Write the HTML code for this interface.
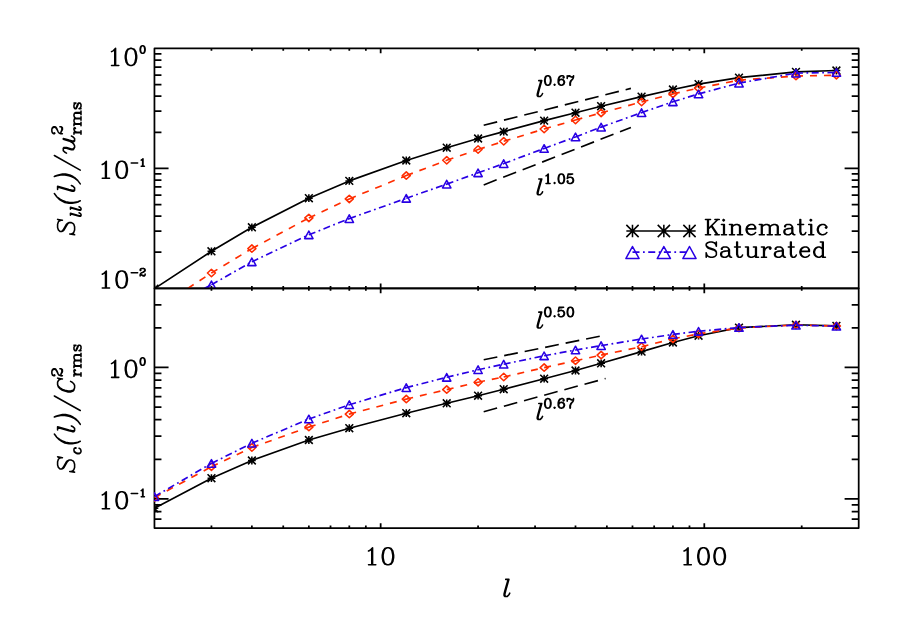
<!DOCTYPE html>
<html><head><meta charset="utf-8"><title>Structure functions</title>
<style>html,body{margin:0;padding:0;background:#fff;font-family:"Liberation Sans",sans-serif}svg{display:block}</style></head>
<body>
<svg width="905" height="626" viewBox="0 0 905 626">
<rect width="905" height="626" fill="#fff"/>
<defs><clipPath id="c1"><rect x="154.45" y="48.45" width="704.25" height="240.5"/></clipPath>
<clipPath id="c2"><rect x="154.05" y="288.35" width="704.65" height="239.65"/></clipPath></defs>
<path d="M154.45 48.45H858.7V288.35H154.45ZM211.44 48.45v2.4M211.44 288.35v-2.4M251.87 48.45v2.4M251.87 288.35v-2.4M283.24 48.45v2.4M283.24 288.35v-2.4M308.86 48.45v2.4M308.86 288.35v-2.4M330.53 48.45v2.4M330.53 288.35v-2.4M349.3 48.45v2.4M349.3 288.35v-2.4M365.85 48.45v2.4M365.85 288.35v-2.4M380.66 48.45v4.8M380.66 288.35v-4.8M478.08 48.45v2.4M478.08 288.35v-2.4M535.07 48.45v2.4M535.07 288.35v-2.4M575.5 48.45v2.4M575.5 288.35v-2.4M606.87 48.45v2.4M606.87 288.35v-2.4M632.49 48.45v2.4M632.49 288.35v-2.4M654.16 48.45v2.4M654.16 288.35v-2.4M672.93 48.45v2.4M672.93 288.35v-2.4M689.48 48.45v2.4M689.48 288.35v-2.4M704.29 48.45v4.8M704.29 288.35v-4.8M801.71 48.45v2.4M801.71 288.35v-2.4M154.45 288.35h14.1M858.7 288.35h-14.1M154.45 252.24h7M858.7 252.24h-7M154.45 231.12h7M858.7 231.12h-7M154.45 216.13h7M858.7 216.13h-7M154.45 204.51h7M858.7 204.51h-7M154.45 195.01h7M858.7 195.01h-7M154.45 186.98h7M858.7 186.98h-7M154.45 180.02h7M858.7 180.02h-7M154.45 173.89h7M858.7 173.89h-7M154.45 168.4h14.1M858.7 168.4h-14.1M154.45 132.29h7M858.7 132.29h-7M154.45 111.17h7M858.7 111.17h-7M154.45 96.18h7M858.7 96.18h-7M154.45 84.56h7M858.7 84.56h-7M154.45 75.06h7M858.7 75.06h-7M154.45 67.03h7M858.7 67.03h-7M154.45 60.07h7M858.7 60.07h-7M154.45 53.94h7M858.7 53.94h-7M154.45 48.45h14.1M858.7 48.45h-14.1" fill="none" stroke="#000" stroke-width="1.75" stroke-linejoin="round" stroke-linecap="butt"/>
<g clip-path="url(#c1)" fill="none" stroke-linejoin="round">
<polyline points="154.45,288.6 211.44,251.3 251.87,227.3 308.86,198.2 349.3,180.9 406.28,160.5 446.72,147.7 478.08,138.5 503.71,131.6 544.14,120.6 575.5,112.7 601.13,106.2 641.56,96.6 672.93,89.5 698.55,84.1 738.99,77.6 795.97,71.9 836.41,70.5" stroke="#000" stroke-width="1.65"/>
<path d="M150.56 288.6h7.77M154.45 284.72v7.77M150.56 284.72l7.77 7.77M150.56 292.49l7.77 -7.77M207.55 251.3h7.77M211.44 247.42v7.77M207.55 247.42l7.77 7.77M207.55 255.19l7.77 -7.77M247.99 227.3h7.77M251.87 223.42v7.77M247.99 223.42l7.77 7.77M247.99 231.19l7.77 -7.77M304.98 198.2h7.77M308.86 194.31v7.77M304.98 194.31l7.77 7.77M304.98 202.08l7.77 -7.77M345.41 180.9h7.77M349.3 177.02v7.77M345.41 177.02l7.77 7.77M345.41 184.78l7.77 -7.77M402.4 160.5h7.77M406.28 156.62v7.77M402.4 156.62l7.77 7.77M402.4 164.38l7.77 -7.77M442.83 147.7h7.77M446.72 143.81v7.77M442.83 143.81l7.77 7.77M442.83 151.58l7.77 -7.77M474.2 138.5h7.77M478.08 134.62v7.77M474.2 134.62l7.77 7.77M474.2 142.38l7.77 -7.77M499.82 131.6h7.77M503.71 127.71v7.77M499.82 127.71l7.77 7.77M499.82 135.48l7.77 -7.77M540.26 120.6h7.77M544.14 116.71v7.77M540.26 116.71l7.77 7.77M540.26 124.48l7.77 -7.77M571.62 112.7h7.77M575.5 108.81v7.77M571.62 108.81l7.77 7.77M571.62 116.59l7.77 -7.77M597.24 106.2h7.77M601.13 102.31v7.77M597.24 102.31l7.77 7.77M597.24 110.09l7.77 -7.77M637.68 96.6h7.77M641.56 92.71v7.77M637.68 92.71l7.77 7.77M637.68 100.48l7.77 -7.77M669.04 89.5h7.77M672.93 85.61v7.77M669.04 85.61l7.77 7.77M669.04 93.39l7.77 -7.77M694.67 84.1h7.77M698.55 80.21v7.77M694.67 80.21l7.77 7.77M694.67 87.98l7.77 -7.77M735.1 77.6h7.77M738.99 73.71v7.77M735.1 73.71l7.77 7.77M735.1 81.48l7.77 -7.77M792.09 71.9h7.77M795.97 68.02v7.77M792.09 68.02l7.77 7.77M792.09 75.79l7.77 -7.77M832.52 70.5h7.77M836.41 66.61v7.77M832.52 66.61l7.77 7.77M832.52 74.39l7.77 -7.77" stroke="#000" stroke-width="1.55"/>
<path d="M187.8 288.35L211.44 273M211.44 273L251.87 248.6M251.87 248.6L308.86 217.9M308.86 217.9L349.3 198.9M349.3 198.9L406.28 175.6M406.28 175.6L446.72 160.3M446.72 160.3L478.08 149.5M478.08 149.5L503.71 141.3M503.71 141.3L544.14 129M544.14 129L575.5 120M575.5 120L601.13 112.9M601.13 112.9L641.56 102M641.56 102L672.93 93.9M672.93 93.9L698.55 88.1M698.55 88.1L738.99 80.2M738.99 80.2L795.97 76.1M795.97 76.1L836.41 75.2" stroke="#ff2d00" stroke-width="1.65" stroke-dasharray="7 7"/>
<path d="M150.45 309l4 -3.7l4 3.7l-4 3.7zM207.44 273l4 -3.7l4 3.7l-4 3.7zM247.87 248.6l4 -3.7l4 3.7l-4 3.7zM304.86 217.9l4 -3.7l4 3.7l-4 3.7zM345.3 198.9l4 -3.7l4 3.7l-4 3.7zM402.28 175.6l4 -3.7l4 3.7l-4 3.7zM442.72 160.3l4 -3.7l4 3.7l-4 3.7zM474.08 149.5l4 -3.7l4 3.7l-4 3.7zM499.71 141.3l4 -3.7l4 3.7l-4 3.7zM540.14 129l4 -3.7l4 3.7l-4 3.7zM571.5 120l4 -3.7l4 3.7l-4 3.7zM597.13 112.9l4 -3.7l4 3.7l-4 3.7zM637.56 102l4 -3.7l4 3.7l-4 3.7zM668.93 93.9l4 -3.7l4 3.7l-4 3.7zM694.55 88.1l4 -3.7l4 3.7l-4 3.7zM734.99 80.2l4 -3.7l4 3.7l-4 3.7zM791.97 76.1l4 -3.7l4 3.7l-4 3.7zM832.41 75.2l4 -3.7l4 3.7l-4 3.7z" stroke="#ff2d00" stroke-width="1.55"/>
<path d="M204.5 288.35L211.44 284.8M211.44 284.8L251.87 261.8M251.87 261.8L308.86 234.8M308.86 234.8L349.3 218.6M349.3 218.6L406.28 198.3M406.28 198.3L446.72 184.1M446.72 184.1L478.08 172.8M478.08 172.8L503.71 163.6M503.71 163.6L544.14 148.5M544.14 148.5L575.5 136.9M575.5 136.9L601.13 127.1M601.13 127.1L641.56 112.6M641.56 112.6L672.93 101.8M672.93 101.8L698.55 93.9M698.55 93.9L738.99 83.1M738.99 83.1L795.97 73.1M795.97 73.1L836.41 72.5" stroke="#2800e4" stroke-width="1.65" stroke-dasharray="7 3.5 1.75 3.5"/>
<path d="M150.27 321.8l8.36 0l-4.18 -7.6zM207.26 288.6l8.36 0l-4.18 -7.6zM247.69 265.6l8.36 0l-4.18 -7.6zM304.68 238.6l8.36 0l-4.18 -7.6zM345.12 222.4l8.36 0l-4.18 -7.6zM402.1 202.1l8.36 0l-4.18 -7.6zM442.54 187.9l8.36 0l-4.18 -7.6zM473.9 176.6l8.36 0l-4.18 -7.6zM499.53 167.4l8.36 0l-4.18 -7.6zM539.96 152.3l8.36 0l-4.18 -7.6zM571.32 140.7l8.36 0l-4.18 -7.6zM596.95 130.9l8.36 0l-4.18 -7.6zM637.38 116.4l8.36 0l-4.18 -7.6zM668.75 105.6l8.36 0l-4.18 -7.6zM694.37 97.7l8.36 0l-4.18 -7.6zM734.81 86.9l8.36 0l-4.18 -7.6zM791.79 76.9l8.36 0l-4.18 -7.6zM832.23 76.3l8.36 0l-4.18 -7.6z" stroke="#2800e4" stroke-width="1.55"/>
</g>
<path d="M154.45 288.35H858.7V528H154.45ZM211.44 288.35v2.4M211.44 528v-2.4M251.87 288.35v2.4M251.87 528v-2.4M283.24 288.35v2.4M283.24 528v-2.4M308.86 288.35v2.4M308.86 528v-2.4M330.53 288.35v2.4M330.53 528v-2.4M349.3 288.35v2.4M349.3 528v-2.4M365.85 288.35v2.4M365.85 528v-2.4M380.66 288.35v4.8M380.66 528v-4.8M478.08 288.35v2.4M478.08 528v-2.4M535.07 288.35v2.4M535.07 528v-2.4M575.5 288.35v2.4M575.5 528v-2.4M606.87 288.35v2.4M606.87 528v-2.4M632.49 288.35v2.4M632.49 528v-2.4M654.16 288.35v2.4M654.16 528v-2.4M672.93 288.35v2.4M672.93 528v-2.4M689.48 288.35v2.4M689.48 528v-2.4M704.29 288.35v4.8M704.29 528v-4.8M801.71 288.35v2.4M801.71 528v-2.4M154.45 528h7M858.7 528h-7M154.45 519.2h7M858.7 519.2h-7M154.45 511.58h7M858.7 511.58h-7M154.45 504.86h7M858.7 504.86h-7M154.45 498.85h14.1M858.7 498.85h-14.1M154.45 459.3h7M858.7 459.3h-7M154.45 436.16h7M858.7 436.16h-7M154.45 419.74h7M858.7 419.74h-7M154.45 407.01h7M858.7 407.01h-7M154.45 396.61h7M858.7 396.61h-7M154.45 387.81h7M858.7 387.81h-7M154.45 380.19h7M858.7 380.19h-7M154.45 373.47h7M858.7 373.47h-7M154.45 367.46h14.1M858.7 367.46h-14.1M154.45 327.9h7M858.7 327.9h-7M154.45 304.77h7M858.7 304.77h-7M154.45 288.35h7M858.7 288.35h-7" fill="none" stroke="#000" stroke-width="1.75" stroke-linejoin="round" stroke-linecap="butt"/>
<g clip-path="url(#c2)" fill="none" stroke-linejoin="round">
<polyline points="154.45,508.3 211.44,478.2 251.87,460.5 308.86,440 349.3,428.2 406.28,413.2 446.72,403.3 478.08,395.7 503.71,389.2 544.14,378.7 575.5,370.5 601.13,363.3 641.56,351.6 672.93,342.5 698.55,335.7 738.99,327.6 795.97,324.8 836.41,325.9" stroke="#000" stroke-width="1.65"/>
<path d="M150.56 508.3h7.77M154.45 504.42v7.77M150.56 504.42l7.77 7.77M150.56 512.19l7.77 -7.77M207.55 478.2h7.77M211.44 474.31v7.77M207.55 474.31l7.77 7.77M207.55 482.08l7.77 -7.77M247.99 460.5h7.77M251.87 456.62v7.77M247.99 456.62l7.77 7.77M247.99 464.38l7.77 -7.77M304.98 440h7.77M308.86 436.12v7.77M304.98 436.12l7.77 7.77M304.98 443.88l7.77 -7.77M345.41 428.2h7.77M349.3 424.31v7.77M345.41 424.31l7.77 7.77M345.41 432.08l7.77 -7.77M402.4 413.2h7.77M406.28 409.31v7.77M402.4 409.31l7.77 7.77M402.4 417.08l7.77 -7.77M442.83 403.3h7.77M446.72 399.42v7.77M442.83 399.42l7.77 7.77M442.83 407.19l7.77 -7.77M474.2 395.7h7.77M478.08 391.81v7.77M474.2 391.81l7.77 7.77M474.2 399.58l7.77 -7.77M499.82 389.2h7.77M503.71 385.31v7.77M499.82 385.31l7.77 7.77M499.82 393.08l7.77 -7.77M540.26 378.7h7.77M544.14 374.81v7.77M540.26 374.81l7.77 7.77M540.26 382.58l7.77 -7.77M571.62 370.5h7.77M575.5 366.62v7.77M571.62 366.62l7.77 7.77M571.62 374.38l7.77 -7.77M597.24 363.3h7.77M601.13 359.42v7.77M597.24 359.42l7.77 7.77M597.24 367.19l7.77 -7.77M637.68 351.6h7.77M641.56 347.72v7.77M637.68 347.72l7.77 7.77M637.68 355.49l7.77 -7.77M669.04 342.5h7.77M672.93 338.62v7.77M669.04 338.62l7.77 7.77M669.04 346.38l7.77 -7.77M694.67 335.7h7.77M698.55 331.81v7.77M694.67 331.81l7.77 7.77M694.67 339.58l7.77 -7.77M735.1 327.6h7.77M738.99 323.72v7.77M735.1 323.72l7.77 7.77M735.1 331.49l7.77 -7.77M792.09 324.8h7.77M795.97 320.92v7.77M792.09 320.92l7.77 7.77M792.09 328.69l7.77 -7.77M832.52 325.9h7.77M836.41 322.01v7.77M832.52 322.01l7.77 7.77M832.52 329.78l7.77 -7.77" stroke="#000" stroke-width="1.55"/>
<path d="M154.45 497.6L211.44 466.7M211.44 466.7L251.87 447.5M251.87 447.5L308.86 427.1M308.86 427.1L349.3 414.1M349.3 414.1L406.28 399.1M406.28 399.1L446.72 389.6M446.72 389.6L478.08 382.2M478.08 382.2L503.71 377M503.71 377L544.14 367.6M544.14 367.6L575.5 360.7M575.5 360.7L601.13 355.1M601.13 355.1L641.56 346.7M641.56 346.7L672.93 338.9M672.93 338.9L698.55 333.9M698.55 333.9L738.99 328M738.99 328L795.97 325M795.97 325L836.41 326" stroke="#ff2d00" stroke-width="1.65" stroke-dasharray="7 7"/>
<path d="M150.45 497.6l4 -3.7l4 3.7l-4 3.7zM207.44 466.7l4 -3.7l4 3.7l-4 3.7zM247.87 447.5l4 -3.7l4 3.7l-4 3.7zM304.86 427.1l4 -3.7l4 3.7l-4 3.7zM345.3 414.1l4 -3.7l4 3.7l-4 3.7zM402.28 399.1l4 -3.7l4 3.7l-4 3.7zM442.72 389.6l4 -3.7l4 3.7l-4 3.7zM474.08 382.2l4 -3.7l4 3.7l-4 3.7zM499.71 377l4 -3.7l4 3.7l-4 3.7zM540.14 367.6l4 -3.7l4 3.7l-4 3.7zM571.5 360.7l4 -3.7l4 3.7l-4 3.7zM597.13 355.1l4 -3.7l4 3.7l-4 3.7zM637.56 346.7l4 -3.7l4 3.7l-4 3.7zM668.93 338.9l4 -3.7l4 3.7l-4 3.7zM694.55 333.9l4 -3.7l4 3.7l-4 3.7zM734.99 328l4 -3.7l4 3.7l-4 3.7zM791.97 325l4 -3.7l4 3.7l-4 3.7zM832.41 326l4 -3.7l4 3.7l-4 3.7z" stroke="#ff2d00" stroke-width="1.55"/>
<path d="M154.45 496.6L211.44 463.4M211.44 463.4L251.87 443.2M251.87 443.2L308.86 419M308.86 419L349.3 404.7M349.3 404.7L406.28 387.6M406.28 387.6L446.72 377.3M446.72 377.3L478.08 369.7M478.08 369.7L503.71 364.2M503.71 364.2L544.14 355.8M544.14 355.8L575.5 350M575.5 350L601.13 345.6M601.13 345.6L641.56 339M641.56 339L672.93 334.4M672.93 334.4L698.55 331.3M698.55 331.3L738.99 327.5M738.99 327.5L795.97 325.2M795.97 325.2L836.41 326.2" stroke="#2800e4" stroke-width="1.65" stroke-dasharray="7 3.5 1.75 3.5"/>
<path d="M150.27 500.4l8.36 0l-4.18 -7.6zM207.26 467.2l8.36 0l-4.18 -7.6zM247.69 447l8.36 0l-4.18 -7.6zM304.68 422.8l8.36 0l-4.18 -7.6zM345.12 408.5l8.36 0l-4.18 -7.6zM402.1 391.4l8.36 0l-4.18 -7.6zM442.54 381.1l8.36 0l-4.18 -7.6zM473.9 373.5l8.36 0l-4.18 -7.6zM499.53 368l8.36 0l-4.18 -7.6zM539.96 359.6l8.36 0l-4.18 -7.6zM571.32 353.8l8.36 0l-4.18 -7.6zM596.95 349.4l8.36 0l-4.18 -7.6zM637.38 342.8l8.36 0l-4.18 -7.6zM668.75 338.2l8.36 0l-4.18 -7.6zM694.37 335.1l8.36 0l-4.18 -7.6zM734.81 331.3l8.36 0l-4.18 -7.6zM791.79 329l8.36 0l-4.18 -7.6zM832.23 330l8.36 0l-4.18 -7.6z" stroke="#2800e4" stroke-width="1.55"/>
</g>
<path d="M483.7 125.2L630.9 88.4M483.7 184.9L630.9 127.5M483.7 359.8L605.6 335.05M483.7 411.7L605.6 378.5" fill="none" stroke="#000" stroke-width="1.65" stroke-dasharray="13.9 7"/>
<path d="M111.53 51.63L113.15 50.82L115.58 48.39L115.58 65.4M114.77 49.2L114.77 65.4M111.53 65.4L118.82 65.4M130.16 48.39L127.73 49.2L126.11 51.63L125.3 55.68L125.3 58.11L126.11 62.16L127.73 64.59L130.16 65.4L131.78 65.4L134.21 64.59L135.83 62.16L136.64 58.11L136.64 55.68L135.83 51.63L134.21 49.2L131.78 48.39L130.16 48.39M130.16 48.39L128.54 49.2L127.73 50.01L126.92 51.63L126.11 55.68L126.11 58.11L126.92 62.16L127.73 63.78L128.54 64.59L130.16 65.4M131.78 65.4L133.4 64.59L134.21 63.78L135.02 62.16L135.83 58.11L135.83 55.68L135.02 51.63L134.21 50.01L133.4 49.2L131.78 48.39M142.28 45.82L141.21 46.17L140.5 47.24L140.14 49.02L140.14 50.09L140.5 51.87L141.21 52.94L142.28 53.3L142.99 53.3L144.06 52.94L144.77 51.87L145.13 50.09L145.13 49.02L144.77 47.24L144.06 46.17L142.99 45.82L142.28 45.82M142.28 45.82L141.57 46.17L141.21 46.53L140.85 47.24L140.5 49.02L140.5 50.09L140.85 51.87L141.21 52.59L141.57 52.94L142.28 53.3M142.99 53.3L143.71 52.94L144.06 52.59L144.42 51.87L144.77 50.09L144.77 49.02L144.42 47.24L144.06 46.53L143.71 46.17L142.99 45.82M102.27 164.53L103.89 163.72L106.32 161.29L106.32 178.3M105.51 162.1L105.51 178.3M102.27 178.3L109.56 178.3M120.9 161.29L118.47 162.1L116.85 164.53L116.04 168.58L116.04 171.01L116.85 175.06L118.47 177.49L120.9 178.3L122.52 178.3L124.95 177.49L126.57 175.06L127.38 171.01L127.38 168.58L126.57 164.53L124.95 162.1L122.52 161.29L120.9 161.29M120.9 161.29L119.28 162.1L118.47 162.91L117.66 164.53L116.85 168.58L116.85 171.01L117.66 175.06L118.47 176.68L119.28 177.49L120.9 178.3M122.52 178.3L124.14 177.49L124.95 176.68L125.76 175.06L126.57 171.01L126.57 168.58L125.76 164.53L124.95 162.91L124.14 162.1L122.52 161.29M131.23 162.99L137.65 162.99M141.21 160.14L141.92 159.78L142.99 158.72L142.99 166.2M142.64 159.07L142.64 166.2M141.21 166.2L144.42 166.2M102.27 274.23L103.89 273.42L106.32 270.99L106.32 288M105.51 271.8L105.51 288M102.27 288L109.56 288M120.9 270.99L118.47 271.8L116.85 274.23L116.04 278.28L116.04 280.71L116.85 284.76L118.47 287.19L120.9 288L122.52 288L124.95 287.19L126.57 284.76L127.38 280.71L127.38 278.28L126.57 274.23L124.95 271.8L122.52 270.99L120.9 270.99M120.9 270.99L119.28 271.8L118.47 272.61L117.66 274.23L116.85 278.28L116.85 280.71L117.66 284.76L118.47 286.38L119.28 287.19L120.9 288M122.52 288L124.14 287.19L124.95 286.38L125.76 284.76L126.57 280.71L126.57 278.28L125.76 274.23L124.95 272.61L124.14 271.8L122.52 270.99M131.23 272.69L137.65 272.69M140.5 269.84L140.85 270.2L140.5 270.55L140.14 270.2L140.14 269.84L140.5 269.13L140.85 268.77L141.92 268.42L143.35 268.42L144.42 268.77L144.77 269.13L145.13 269.84L145.13 270.55L144.77 271.27L143.71 271.98L141.92 272.69L141.21 273.05L140.5 273.76L140.14 274.83L140.14 275.9M143.35 268.42L144.06 268.77L144.42 269.13L144.77 269.84L144.77 270.55L144.42 271.27L143.35 271.98L141.92 272.69M140.14 275.19L140.5 274.83L141.21 274.83L142.99 275.54L144.06 275.54L144.77 275.19L145.13 274.83M141.21 274.83L142.99 275.9L144.42 275.9L144.77 275.54L145.13 274.83L145.13 274.12M111.53 363.59L113.15 362.78L115.58 360.35L115.58 377.36M114.77 361.16L114.77 377.36M111.53 377.36L118.82 377.36M130.16 360.35L127.73 361.16L126.11 363.59L125.3 367.64L125.3 370.07L126.11 374.12L127.73 376.55L130.16 377.36L131.78 377.36L134.21 376.55L135.83 374.12L136.64 370.07L136.64 367.64L135.83 363.59L134.21 361.16L131.78 360.35L130.16 360.35M130.16 360.35L128.54 361.16L127.73 361.97L126.92 363.59L126.11 367.64L126.11 370.07L126.92 374.12L127.73 375.74L128.54 376.55L130.16 377.36M131.78 377.36L133.4 376.55L134.21 375.74L135.02 374.12L135.83 370.07L135.83 367.64L135.02 363.59L134.21 361.97L133.4 361.16L131.78 360.35M142.28 357.77L141.21 358.13L140.5 359.2L140.14 360.98L140.14 362.05L140.5 363.83L141.21 364.9L142.28 365.26L142.99 365.26L144.06 364.9L144.77 363.83L145.13 362.05L145.13 360.98L144.77 359.2L144.06 358.13L142.99 357.77L142.28 357.77M142.28 357.77L141.57 358.13L141.21 358.49L140.85 359.2L140.5 360.98L140.5 362.05L140.85 363.83L141.21 364.54L141.57 364.9L142.28 365.26M142.99 365.26L143.71 364.9L144.06 364.54L144.42 363.83L144.77 362.05L144.77 360.98L144.42 359.2L144.06 358.49L143.71 358.13L142.99 357.77M102.27 494.98L103.89 494.17L106.32 491.74L106.32 508.75M105.51 492.55L105.51 508.75M102.27 508.75L109.56 508.75M120.9 491.74L118.47 492.55L116.85 494.98L116.04 499.03L116.04 501.46L116.85 505.51L118.47 507.94L120.9 508.75L122.52 508.75L124.95 507.94L126.57 505.51L127.38 501.46L127.38 499.03L126.57 494.98L124.95 492.55L122.52 491.74L120.9 491.74M120.9 491.74L119.28 492.55L118.47 493.36L117.66 494.98L116.85 499.03L116.85 501.46L117.66 505.51L118.47 507.13L119.28 507.94L120.9 508.75M122.52 508.75L124.14 507.94L124.95 507.13L125.76 505.51L126.57 501.46L126.57 499.03L125.76 494.98L124.95 493.36L124.14 492.55L122.52 491.74M131.23 493.44L137.65 493.44M141.21 490.59L141.92 490.24L142.99 489.17L142.99 496.65M142.64 489.52L142.64 496.65M141.21 496.65L144.42 496.65M368.52 551.03L370.14 550.22L372.57 547.79L372.57 564.8M371.76 548.6L371.76 564.8M368.52 564.8L375.81 564.8M387.15 547.79L384.72 548.6L383.1 551.03L382.29 555.08L382.29 557.51L383.1 561.56L384.72 563.99L387.15 564.8L388.77 564.8L391.2 563.99L392.82 561.56L393.63 557.51L393.63 555.08L392.82 551.03L391.2 548.6L388.77 547.79L387.15 547.79M387.15 547.79L385.53 548.6L384.72 549.41L383.91 551.03L383.1 555.08L383.1 557.51L383.91 561.56L384.72 563.18L385.53 563.99L387.15 564.8M388.77 564.8L390.39 563.99L391.2 563.18L392.01 561.56L392.82 557.51L392.82 555.08L392.01 551.03L391.2 549.41L390.39 548.6L388.77 547.79M684.05 551.03L685.67 550.22L688.1 547.79L688.1 564.8M687.29 548.6L687.29 564.8M684.05 564.8L691.34 564.8M702.68 547.79L700.25 548.6L698.63 551.03L697.82 555.08L697.82 557.51L698.63 561.56L700.25 563.99L702.68 564.8L704.3 564.8L706.73 563.99L708.35 561.56L709.16 557.51L709.16 555.08L708.35 551.03L706.73 548.6L704.3 547.79L702.68 547.79M702.68 547.79L701.06 548.6L700.25 549.41L699.44 551.03L698.63 555.08L698.63 557.51L699.44 561.56L700.25 563.18L701.06 563.99L702.68 564.8M704.3 564.8L705.92 563.99L706.73 563.18L707.54 561.56L708.35 557.51L708.35 555.08L707.54 551.03L706.73 549.41L705.92 548.6L704.3 547.79M718.88 547.79L716.45 548.6L714.83 551.03L714.02 555.08L714.02 557.51L714.83 561.56L716.45 563.99L718.88 564.8L720.5 564.8L722.93 563.99L724.55 561.56L725.36 557.51L725.36 555.08L724.55 551.03L722.93 548.6L720.5 547.79L718.88 547.79M718.88 547.79L717.26 548.6L716.45 549.41L715.64 551.03L714.83 555.08L714.83 557.51L715.64 561.56L716.45 563.18L717.26 563.99L718.88 564.8M720.5 564.8L722.12 563.99L722.93 563.18L723.74 561.56L724.55 557.51L724.55 555.08L723.74 551.03L722.93 549.41L722.12 548.6L720.5 547.79M508.12 579.39L504.88 590.73L504.07 593.97L504.07 595.59L504.88 596.4L507.31 596.4L508.93 594.78L509.74 593.16M508.93 579.39L505.69 590.73L504.88 593.97L504.88 595.59L505.69 596.4M505.69 579.39L508.93 579.39M707.63 219.43L707.63 234.7M708.36 219.43L708.36 234.7M717.81 219.43L708.36 228.88M712 225.98L717.81 234.7M711.27 225.98L717.09 234.7M705.45 219.43L710.54 219.43M714.91 219.43L719.27 219.43M705.45 234.7L710.54 234.7M714.91 234.7L719.27 234.7M723.63 219.43L722.9 220.16L723.63 220.89L724.36 220.16L723.63 219.43M723.63 224.52L723.63 234.7M724.36 224.52L724.36 234.7M721.45 224.52L724.36 224.52M721.45 234.7L726.54 234.7M731.63 224.52L731.63 234.7M732.35 224.52L732.35 234.7M732.35 226.7L733.81 225.25L735.99 224.52L737.44 224.52L739.62 225.25L740.35 226.7L740.35 234.7M737.44 224.52L738.9 225.25L739.62 226.7L739.62 234.7M729.44 224.52L732.35 224.52M729.44 234.7L734.53 234.7M737.44 234.7L742.53 234.7M746.89 228.88L755.62 228.88L755.62 227.43L754.89 225.98L754.16 225.25L752.71 224.52L750.53 224.52L748.35 225.25L746.89 226.7L746.17 228.88L746.17 230.34L746.89 232.52L748.35 233.97L750.53 234.7L751.98 234.7L754.16 233.97L755.62 232.52M754.89 228.88L754.89 226.7L754.16 225.25M750.53 224.52L749.07 225.25L747.62 226.7L746.89 228.88L746.89 230.34L747.62 232.52L749.07 233.97L750.53 234.7M761.43 224.52L761.43 234.7M762.16 224.52L762.16 234.7M762.16 226.7L763.61 225.25L765.79 224.52L767.25 224.52L769.43 225.25L770.16 226.7L770.16 234.7M767.25 224.52L768.7 225.25L769.43 226.7L769.43 234.7M770.16 226.7L771.61 225.25L773.79 224.52L775.25 224.52L777.43 225.25L778.15 226.7L778.15 234.7M775.25 224.52L776.7 225.25L777.43 226.7L777.43 234.7M759.25 224.52L762.16 224.52M759.25 234.7L764.34 234.7M767.25 234.7L772.34 234.7M775.25 234.7L780.33 234.7M785.42 225.98L785.42 226.7L784.7 226.7L784.7 225.98L785.42 225.25L786.88 224.52L789.79 224.52L791.24 225.25L791.97 225.98L792.69 227.43L792.69 232.52L793.42 233.97L794.15 234.7M791.97 225.98L791.97 232.52L792.69 233.97L794.15 234.7L794.88 234.7M791.97 227.43L791.24 228.16L786.88 228.88L784.7 229.61L783.97 231.06L783.97 232.52L784.7 233.97L786.88 234.7L789.06 234.7L790.51 233.97L791.97 232.52M786.88 228.88L785.42 229.61L784.7 231.06L784.7 232.52L785.42 233.97L786.88 234.7M799.96 219.43L799.96 231.79L800.69 233.97L802.14 234.7L803.6 234.7L805.05 233.97L805.78 232.52M800.69 219.43L800.69 231.79L801.42 233.97L802.14 234.7M797.78 224.52L803.6 224.52M810.87 219.43L810.14 220.16L810.87 220.89L811.6 220.16L810.87 219.43M810.87 224.52L810.87 234.7M811.6 224.52L811.6 234.7M808.69 224.52L811.6 224.52M808.69 234.7L813.78 234.7M826.14 226.7L825.41 227.43L826.14 228.16L826.86 227.43L826.86 226.7L825.41 225.25L823.95 224.52L821.77 224.52L819.59 225.25L818.14 226.7L817.41 228.88L817.41 230.34L818.14 232.52L819.59 233.97L821.77 234.7L823.23 234.7L825.41 233.97L826.86 232.52M821.77 224.52L820.32 225.25L818.87 226.7L818.14 228.88L818.14 230.34L818.87 232.52L820.32 233.97L821.77 234.7M715.63 244.11L716.36 241.93L716.36 246.29L715.63 244.11L714.18 242.66L712 241.93L709.82 241.93L707.63 242.66L706.18 244.11L706.18 245.57L706.91 247.02L707.63 247.75L709.09 248.48L713.45 249.93L714.9 250.66L716.36 252.11M706.18 245.57L707.63 247.02L709.09 247.75L713.45 249.2L714.9 249.93L715.63 250.66L716.36 252.11L716.36 255.02L714.9 256.47L712.72 257.2L710.54 257.2L708.36 256.47L706.91 255.02L706.18 252.84L706.18 257.2L706.91 255.02M722.17 248.48L722.17 249.2L721.45 249.2L721.45 248.48L722.17 247.75L723.63 247.02L726.54 247.02L727.99 247.75L728.72 248.48L729.44 249.93L729.44 255.02L730.17 256.47L730.9 257.2M728.72 248.48L728.72 255.02L729.44 256.47L730.9 257.2L731.63 257.2M728.72 249.93L727.99 250.66L723.63 251.38L721.45 252.11L720.72 253.56L720.72 255.02L721.45 256.47L723.63 257.2L725.81 257.2L727.26 256.47L728.72 255.02M723.63 251.38L722.17 252.11L721.45 253.56L721.45 255.02L722.17 256.47L723.63 257.2M736.72 241.93L736.72 254.29L737.44 256.47L738.9 257.2L740.35 257.2L741.8 256.47L742.53 255.02M737.44 241.93L737.44 254.29L738.17 256.47L738.9 257.2M734.53 247.02L740.35 247.02M747.62 247.02L747.62 255.02L748.35 256.47L750.53 257.2L751.98 257.2L754.16 256.47L755.62 255.02M748.35 247.02L748.35 255.02L749.07 256.47L750.53 257.2M755.62 247.02L755.62 257.2M756.34 247.02L756.34 257.2M745.44 247.02L748.35 247.02M753.44 247.02L756.34 247.02M755.62 257.2L758.52 257.2M763.61 247.02L763.61 257.2M764.34 247.02L764.34 257.2M764.34 251.38L765.07 249.2L766.52 247.75L767.98 247.02L770.16 247.02L770.88 247.75L770.88 248.48L770.16 249.2L769.43 248.48L770.16 247.75M761.43 247.02L764.34 247.02M761.43 257.2L766.52 257.2M775.97 248.48L775.97 249.2L775.25 249.2L775.25 248.48L775.97 247.75L777.43 247.02L780.33 247.02L781.79 247.75L782.52 248.48L783.24 249.93L783.24 255.02L783.97 256.47L784.7 257.2M782.52 248.48L782.52 255.02L783.24 256.47L784.7 257.2L785.42 257.2M782.52 249.93L781.79 250.66L777.43 251.38L775.25 252.11L774.52 253.56L774.52 255.02L775.25 256.47L777.43 257.2L779.61 257.2L781.06 256.47L782.52 255.02M777.43 251.38L775.97 252.11L775.25 253.56L775.25 255.02L775.97 256.47L777.43 257.2M790.51 241.93L790.51 254.29L791.24 256.47L792.69 257.2L794.15 257.2L795.6 256.47L796.33 255.02M791.24 241.93L791.24 254.29L791.97 256.47L792.69 257.2M788.33 247.02L794.15 247.02M800.69 251.38L809.41 251.38L809.41 249.93L808.69 248.48L807.96 247.75L806.51 247.02L804.33 247.02L802.14 247.75L800.69 249.2L799.96 251.38L799.96 252.84L800.69 255.02L802.14 256.47L804.33 257.2L805.78 257.2L807.96 256.47L809.41 255.02M808.69 251.38L808.69 249.2L807.96 247.75M804.33 247.02L802.87 247.75L801.42 249.2L800.69 251.38L800.69 252.84L801.42 255.02L802.87 256.47L804.33 257.2M822.5 241.93L822.5 257.2M823.23 241.93L823.23 257.2M822.5 249.2L821.05 247.75L819.59 247.02L818.14 247.02L815.96 247.75L814.5 249.2L813.78 251.38L813.78 252.84L814.5 255.02L815.96 256.47L818.14 257.2L819.59 257.2L821.05 256.47L822.5 255.02M818.14 247.02L816.68 247.75L815.23 249.2L814.5 251.38L814.5 252.84L815.23 255.02L816.68 256.47L818.14 257.2M820.32 241.93L823.23 241.93M822.5 257.2L825.41 257.2M541.04 80.64L538.02 91.22L537.26 94.23L537.26 95.75L538.02 96.5L540.28 96.5L541.79 94.99L542.55 93.48M541.79 80.64L538.77 91.22L538.02 94.23L538.02 95.75L538.77 96.5M538.77 80.64L541.79 80.64M547.38 75.73L546.03 76.19L545.13 77.54L544.68 79.79L544.68 81.14L545.13 83.4L546.03 84.75L547.38 85.2L548.28 85.2L549.63 84.75L550.54 83.4L550.99 81.14L550.99 79.79L550.54 77.54L549.63 76.19L548.28 75.73L547.38 75.73M547.38 75.73L546.48 76.19L546.03 76.64L545.58 77.54L545.13 79.79L545.13 81.14L545.58 83.4L546.03 84.3L546.48 84.75L547.38 85.2M548.28 85.2L549.18 84.75L549.63 84.3L550.09 83.4L550.54 81.14L550.54 79.79L550.09 77.54L549.63 76.64L549.18 76.19L548.28 75.73M554.59 84.3L554.14 84.75L554.59 85.2L555.04 84.75L554.59 84.3M563.61 77.09L563.16 77.54L563.61 77.99L564.06 77.54L564.06 77.09L563.61 76.19L562.71 75.73L561.35 75.73L560 76.19L559.1 77.09L558.65 77.99L558.2 79.79L558.2 82.5L558.65 83.85L559.55 84.75L560.9 85.2L561.8 85.2L563.16 84.75L564.06 83.85L564.51 82.5L564.51 82.04L564.06 80.69L563.16 79.79L561.8 79.34L561.35 79.34L560 79.79L559.1 80.69L558.65 82.04M561.35 75.73L560.45 76.19L559.55 77.09L559.1 77.99L558.65 79.79L558.65 82.5L559.1 83.85L560 84.75L560.9 85.2M561.8 85.2L562.71 84.75L563.61 83.85L564.06 82.5L564.06 82.04L563.61 80.69L562.71 79.79L561.8 79.34M567.21 75.73L567.21 78.44M567.21 77.54L567.66 76.64L568.57 75.73L569.47 75.73L571.72 77.09L572.62 77.09L573.07 76.64L573.52 75.73M567.66 76.64L568.57 76.19L569.47 76.19L571.72 77.09M573.52 75.73L573.52 77.09L573.07 78.44L571.27 80.69L570.82 81.59L570.37 82.95L570.37 85.2M573.07 78.44L570.82 80.69L570.37 81.59L569.92 82.95L569.92 85.2M541.04 178.95L538.02 189.52L537.26 192.54L537.26 194.05L538.02 194.8L540.28 194.8L541.79 193.29L542.55 191.78M541.79 178.95L538.77 189.52L538.02 192.54L538.02 194.05L538.77 194.8M538.77 178.95L541.79 178.95M546.03 175.84L546.93 175.39L548.28 174.03L548.28 183.5M547.83 174.49L547.83 183.5M546.03 183.5L550.09 183.5M554.59 182.6L554.14 183.05L554.59 183.5L555.04 183.05L554.59 182.6M560.9 174.03L559.55 174.49L558.65 175.84L558.2 178.09L558.2 179.44L558.65 181.7L559.55 183.05L560.9 183.5L561.8 183.5L563.16 183.05L564.06 181.7L564.51 179.44L564.51 178.09L564.06 175.84L563.16 174.49L561.8 174.03L560.9 174.03M560.9 174.03L560 174.49L559.55 174.94L559.1 175.84L558.65 178.09L558.65 179.44L559.1 181.7L559.55 182.6L560 183.05L560.9 183.5M561.8 183.5L562.71 183.05L563.16 182.6L563.61 181.7L564.06 179.44L564.06 178.09L563.61 175.84L563.16 174.94L562.71 174.49L561.8 174.03M568.11 174.03L567.21 178.54M567.21 178.54L568.11 177.64L569.47 177.19L570.82 177.19L572.17 177.64L573.07 178.54L573.52 179.89L573.52 180.8L573.07 182.15L572.17 183.05L570.82 183.5L569.47 183.5L568.11 183.05L567.66 182.6L567.21 181.7L567.21 181.25L567.66 180.8L568.11 181.25L567.66 181.7M570.82 177.19L571.72 177.64L572.62 178.54L573.07 179.89L573.07 180.8L572.62 182.15L571.72 183.05L570.82 183.5M568.11 174.03L572.62 174.03M568.11 174.49L570.37 174.49L572.62 174.03M541.04 312.14L538.02 322.71L537.26 325.74L537.26 327.25L538.02 328L540.28 328L541.79 326.49L542.55 324.98M541.79 312.14L538.77 322.71L538.02 325.74L538.02 327.25L538.77 328M538.77 312.14L541.79 312.14M547.38 307.23L546.03 307.69L545.13 309.04L544.68 311.29L544.68 312.64L545.13 314.9L546.03 316.25L547.38 316.7L548.28 316.7L549.63 316.25L550.54 314.9L550.99 312.64L550.99 311.29L550.54 309.04L549.63 307.69L548.28 307.23L547.38 307.23M547.38 307.23L546.48 307.69L546.03 308.14L545.58 309.04L545.13 311.29L545.13 312.64L545.58 314.9L546.03 315.8L546.48 316.25L547.38 316.7M548.28 316.7L549.18 316.25L549.63 315.8L550.09 314.9L550.54 312.64L550.54 311.29L550.09 309.04L549.63 308.14L549.18 307.69L548.28 307.23M554.59 315.8L554.14 316.25L554.59 316.7L555.04 316.25L554.59 315.8M559.1 307.23L558.2 311.74M558.2 311.74L559.1 310.84L560.45 310.39L561.8 310.39L563.16 310.84L564.06 311.74L564.51 313.09L564.51 314L564.06 315.35L563.16 316.25L561.8 316.7L560.45 316.7L559.1 316.25L558.65 315.8L558.2 314.9L558.2 314.45L558.65 314L559.1 314.45L558.65 314.9M561.8 310.39L562.71 310.84L563.61 311.74L564.06 313.09L564.06 314L563.61 315.35L562.71 316.25L561.8 316.7M559.1 307.23L563.61 307.23M559.1 307.69L561.35 307.69L563.61 307.23M569.92 307.23L568.57 307.69L567.66 309.04L567.21 311.29L567.21 312.64L567.66 314.9L568.57 316.25L569.92 316.7L570.82 316.7L572.17 316.25L573.07 314.9L573.52 312.64L573.52 311.29L573.07 309.04L572.17 307.69L570.82 307.23L569.92 307.23M569.92 307.23L569.02 307.69L568.57 308.14L568.11 309.04L567.66 311.29L567.66 312.64L568.11 314.9L568.57 315.8L569.02 316.25L569.92 316.7M570.82 316.7L571.72 316.25L572.17 315.8L572.62 314.9L573.07 312.64L573.07 311.29L572.62 309.04L572.17 308.14L571.72 307.69L570.82 307.23M541.04 403.54L538.02 414.11L537.26 417.13L537.26 418.64L538.02 419.4L540.28 419.4L541.79 417.89L542.55 416.38M541.79 403.54L538.77 414.11L538.02 417.13L538.02 418.64L538.77 419.4M538.77 403.54L541.79 403.54M547.38 398.63L546.03 399.09L545.13 400.44L544.68 402.69L544.68 404.04L545.13 406.3L546.03 407.65L547.38 408.1L548.28 408.1L549.63 407.65L550.54 406.3L550.99 404.04L550.99 402.69L550.54 400.44L549.63 399.09L548.28 398.63L547.38 398.63M547.38 398.63L546.48 399.09L546.03 399.54L545.58 400.44L545.13 402.69L545.13 404.04L545.58 406.3L546.03 407.2L546.48 407.65L547.38 408.1M548.28 408.1L549.18 407.65L549.63 407.2L550.09 406.3L550.54 404.04L550.54 402.69L550.09 400.44L549.63 399.54L549.18 399.09L548.28 398.63M554.59 407.2L554.14 407.65L554.59 408.1L555.04 407.65L554.59 407.2M563.61 399.99L563.16 400.44L563.61 400.89L564.06 400.44L564.06 399.99L563.61 399.09L562.71 398.63L561.35 398.63L560 399.09L559.1 399.99L558.65 400.89L558.2 402.69L558.2 405.4L558.65 406.75L559.55 407.65L560.9 408.1L561.8 408.1L563.16 407.65L564.06 406.75L564.51 405.4L564.51 404.94L564.06 403.59L563.16 402.69L561.8 402.24L561.35 402.24L560 402.69L559.1 403.59L558.65 404.94M561.35 398.63L560.45 399.09L559.55 399.99L559.1 400.89L558.65 402.69L558.65 405.4L559.1 406.75L560 407.65L560.9 408.1M561.8 408.1L562.71 407.65L563.61 406.75L564.06 405.4L564.06 404.94L563.61 403.59L562.71 402.69L561.8 402.24M567.21 398.63L567.21 401.34M567.21 400.44L567.66 399.54L568.57 398.63L569.47 398.63L571.72 399.99L572.62 399.99L573.07 399.54L573.52 398.63M567.66 399.54L568.57 399.09L569.47 399.09L571.72 399.99M573.52 398.63L573.52 399.99L573.07 401.34L571.27 403.59L570.82 404.49L570.37 405.85L570.37 408.1M573.07 401.34L570.82 403.59L570.37 404.49L569.92 405.85L569.92 408.1" fill="none" stroke="#000" stroke-width="1.55" stroke-linecap="round" stroke-linejoin="round"/>
<path transform="translate(74.6 169) rotate(-90) translate(-67.4 0)" d="M15.39 -15.39L16.2 -15.39L17.01 -17.01L16.2 -12.15L16.2 -13.77L15.39 -15.39L14.58 -16.2L12.15 -17.01L8.91 -17.01L6.48 -16.2L4.86 -14.58L4.86 -12.96L5.67 -11.34L6.48 -10.53L12.15 -7.29L13.77 -5.67M4.86 -12.96L6.48 -11.34L12.15 -8.1L12.96 -7.29L13.77 -5.67L13.77 -3.24L12.96 -1.62L12.15 -0.81L9.72 0L6.48 0L4.05 -0.81L3.24 -1.62L2.43 -3.24L2.43 -4.86L1.62 0L2.43 -1.62L3.24 -1.62M22.65 -4.15L20.64 2.88L20.14 4.89L20.14 5.9L20.64 6.4L22.15 6.4L23.15 5.4L23.65 4.39M23.15 -4.15L21.14 2.88L20.64 4.89L20.64 5.9L21.14 6.4M21.14 -4.15L23.15 -4.15M28.67 -4.15L26.67 2.88L26.16 4.89L26.16 5.9L26.67 6.4L28.17 6.4L29.18 5.4L29.68 4.39M29.18 -4.15L27.17 2.88L26.67 4.89L26.67 5.9L27.17 6.4M27.17 -4.15L29.18 -4.15M42.83 -20.25L39.59 -17.82L37.16 -15.39L35.54 -12.96L33.92 -9.72L33.11 -5.67L33.11 -2.43L33.92 1.62L34.73 4.05L35.54 5.67M39.59 -17.82L37.16 -14.58L35.54 -11.34L34.73 -8.91L33.92 -4.86L33.92 -0.81L34.73 3.24L35.54 5.67M49.31 -17.01L46.07 -5.67L45.26 -2.43L45.26 -0.81L46.07 0L48.5 0L50.12 -1.62L50.93 -3.24M50.12 -17.01L46.88 -5.67L46.07 -2.43L46.07 -0.81L46.88 0M46.88 -17.01L50.12 -17.01M59.84 -20.25L60.65 -18.63L61.46 -16.2L62.27 -12.15L62.27 -8.91L61.46 -4.86L59.84 -1.62L58.22 0.81L55.79 3.24L52.55 5.67M59.84 -20.25L60.65 -17.82L61.46 -13.77L61.46 -9.72L60.65 -5.67L59.84 -3.24L58.22 0L55.79 3.24M80.9 -20.25L66.32 5.67M83.33 -8.1L84.14 -9.72L85.76 -11.34L88.19 -11.34L89 -10.53L89 -8.1L87.38 -3.24L87.38 -1.62L89 0M87.38 -11.34L88.19 -10.53L88.19 -8.1L86.57 -3.24L86.57 -1.62L87.38 -0.81L89 0L90.62 0L92.24 -0.81L93.86 -2.43L95.48 -5.67M97.1 -11.34L95.48 -5.67L94.67 -2.43L94.67 -0.81L95.48 0L97.91 0L99.53 -1.62L100.34 -3.24M97.91 -11.34L96.29 -5.67L95.48 -2.43L95.48 -0.81L96.29 0M103.16 -20.74L103.66 -20.24L103.16 -19.73L102.66 -20.24L102.66 -20.74L103.16 -21.74L103.66 -22.24L105.17 -22.75L107.18 -22.75L108.69 -22.24L109.19 -21.74L109.69 -20.74L109.69 -19.73L109.19 -18.73L107.68 -17.72L105.17 -16.72L104.17 -16.22L103.16 -15.21L102.66 -13.71L102.66 -12.2M107.18 -22.75L108.18 -22.24L108.69 -21.74L109.19 -20.74L109.19 -19.73L108.69 -18.73L107.18 -17.72L105.17 -16.72M102.66 -13.2L103.16 -13.71L104.17 -13.71L106.68 -12.7L108.18 -12.7L109.19 -13.2L109.69 -13.71M104.17 -13.71L106.68 -12.2L108.69 -12.2L109.19 -12.7L109.69 -13.71L109.69 -14.71M103.66 -0.63L103.66 6.4M104.17 -0.63L104.17 6.4M104.17 2.38L104.67 0.88L105.67 -0.13L106.68 -0.63L108.18 -0.63L108.69 -0.13L108.69 0.37L108.18 0.88L107.68 0.37L108.18 -0.13M102.16 -0.63L104.17 -0.63M102.16 6.4L105.67 6.4M112.2 -0.63L112.2 6.4M112.7 -0.63L112.7 6.4M112.7 0.88L113.71 -0.13L115.21 -0.63L116.22 -0.63L117.73 -0.13L118.23 0.88L118.23 6.4M116.22 -0.63L117.22 -0.13L117.73 0.88L117.73 6.4M118.23 0.88L119.23 -0.13L120.74 -0.63L121.74 -0.63L123.25 -0.13L123.75 0.88L123.75 6.4M121.74 -0.63L122.75 -0.13L123.25 0.88L123.25 6.4M110.69 -0.63L112.7 -0.63M110.69 6.4L114.21 6.4M116.22 6.4L119.73 6.4M121.74 6.4L125.26 6.4M132.79 0.37L133.29 -0.63L133.29 1.38L132.79 0.37L132.29 -0.13L131.28 -0.63L129.28 -0.63L128.27 -0.13L127.77 0.37L127.77 1.38L128.27 1.88L129.28 2.38L131.79 3.39L132.79 3.89L133.29 4.39M127.77 0.88L128.27 1.38L129.28 1.88L131.79 2.88L132.79 3.39L133.29 3.89L133.29 5.4L132.79 5.9L131.79 6.4L129.78 6.4L128.77 5.9L128.27 5.4L127.77 4.39L127.77 6.4L128.27 5.4" fill="none" stroke="#000" stroke-width="1.55" stroke-linecap="round" stroke-linejoin="round"/>
<path transform="translate(74.6 408.78) rotate(-90) translate(-65.08 0)" d="M15.39 -15.39L16.2 -15.39L17.01 -17.01L16.2 -12.15L16.2 -13.77L15.39 -15.39L14.58 -16.2L12.15 -17.01L8.91 -17.01L6.48 -16.2L4.86 -14.58L4.86 -12.96L5.67 -11.34L6.48 -10.53L12.15 -7.29L13.77 -5.67M4.86 -12.96L6.48 -11.34L12.15 -8.1L12.96 -7.29L13.77 -5.67L13.77 -3.24L12.96 -1.62L12.15 -0.81L9.72 0L6.48 0L4.05 -0.81L3.24 -1.62L2.43 -3.24L2.43 -4.86L1.62 0L2.43 -1.62L3.24 -1.62M25.66 0.88L25.66 1.38L26.16 1.38L26.16 0.88L25.66 -0.13L24.66 -0.63L23.15 -0.63L21.64 -0.13L20.64 1.38L20.14 2.88L20.14 4.39L20.64 5.4L21.14 5.9L22.15 6.4L23.15 6.4L24.66 5.9L25.66 4.39M23.15 -0.63L22.15 -0.13L21.14 1.38L20.64 2.88L20.64 4.89L21.14 5.9M39.82 -20.25L36.58 -17.82L34.15 -15.39L32.53 -12.96L30.91 -9.72L30.1 -5.67L30.1 -2.43L30.91 1.62L31.72 4.05L32.53 5.67M36.58 -17.82L34.15 -14.58L32.53 -11.34L31.72 -8.91L30.91 -4.86L30.91 -0.81L31.72 3.24L32.53 5.67M46.3 -17.01L43.06 -5.67L42.25 -2.43L42.25 -0.81L43.06 0L45.49 0L47.11 -1.62L47.92 -3.24M47.11 -17.01L43.87 -5.67L43.06 -2.43L43.06 -0.81L43.87 0M43.87 -17.01L47.11 -17.01M56.83 -20.25L57.64 -18.63L58.45 -16.2L59.26 -12.15L59.26 -8.91L58.45 -4.86L56.83 -1.62L55.21 0.81L52.78 3.24L49.54 5.67M56.83 -20.25L57.64 -17.82L58.45 -13.77L58.45 -9.72L57.64 -5.67L56.83 -3.24L55.21 0L52.78 3.24M77.89 -20.25L63.31 5.67M94.09 -15.39L94.9 -15.39L95.71 -17.01L94.9 -12.15L94.9 -13.77L94.09 -15.39L93.28 -16.2L91.66 -17.01L89.23 -17.01L86.8 -16.2L85.18 -14.58L83.56 -12.15L82.75 -9.72L81.94 -6.48L81.94 -4.05L82.75 -1.62L83.56 -0.81L85.99 0L88.42 0L90.04 -0.81L91.66 -2.43L92.47 -4.05M89.23 -17.01L87.61 -16.2L85.99 -14.58L84.37 -12.15L83.56 -9.72L82.75 -6.48L82.75 -4.05L83.56 -1.62L84.37 -0.81L85.99 0M98.53 -20.74L99.03 -20.24L98.53 -19.73L98.03 -20.24L98.03 -20.74L98.53 -21.74L99.03 -22.24L100.54 -22.75L102.55 -22.75L104.05 -22.24L104.55 -21.74L105.06 -20.74L105.06 -19.73L104.55 -18.73L103.05 -17.72L100.54 -16.72L99.53 -16.22L98.53 -15.21L98.03 -13.71L98.03 -12.2M102.55 -22.75L103.55 -22.24L104.05 -21.74L104.55 -20.74L104.55 -19.73L104.05 -18.73L102.55 -17.72L100.54 -16.72M98.03 -13.2L98.53 -13.71L99.53 -13.71L102.04 -12.7L103.55 -12.7L104.55 -13.2L105.06 -13.71M99.53 -13.71L102.04 -12.2L104.05 -12.2L104.55 -12.7L105.06 -13.71L105.06 -14.71M99.03 -0.63L99.03 6.4M99.53 -0.63L99.53 6.4M99.53 2.38L100.04 0.88L101.04 -0.13L102.04 -0.63L103.55 -0.63L104.05 -0.13L104.05 0.37L103.55 0.88L103.05 0.37L103.55 -0.13M97.52 -0.63L99.53 -0.63M97.52 6.4L101.04 6.4M107.57 -0.63L107.57 6.4M108.07 -0.63L108.07 6.4M108.07 0.88L109.07 -0.13L110.58 -0.63L111.59 -0.63L113.09 -0.13L113.59 0.88L113.59 6.4M111.59 -0.63L112.59 -0.13L113.09 0.88L113.09 6.4M113.59 0.88L114.6 -0.13L116.11 -0.63L117.11 -0.63L118.62 -0.13L119.12 0.88L119.12 6.4M117.11 -0.63L118.11 -0.13L118.62 0.88L118.62 6.4M106.06 -0.63L108.07 -0.63M106.06 6.4L109.58 6.4M111.59 6.4L115.1 6.4M117.11 6.4L120.63 6.4M128.16 0.37L128.66 -0.63L128.66 1.38L128.16 0.37L127.66 -0.13L126.65 -0.63L124.64 -0.63L123.64 -0.13L123.14 0.37L123.14 1.38L123.64 1.88L124.64 2.38L127.15 3.39L128.16 3.89L128.66 4.39M123.14 0.88L123.64 1.38L124.64 1.88L127.15 2.88L128.16 3.39L128.66 3.89L128.66 5.4L128.16 5.9L127.15 6.4L125.15 6.4L124.14 5.9L123.64 5.4L123.14 4.39L123.14 6.4L123.64 5.4" fill="none" stroke="#000" stroke-width="1.55" stroke-linecap="round" stroke-linejoin="round"/>
<path d="M632.49 231H689.48M626.35 231h12.29M632.49 224.86v12.29M626.35 224.86l12.29 12.29M626.35 237.14l12.29 -12.29M657.71 231h12.29M663.85 224.86v12.29M657.71 224.86l12.29 12.29M657.71 237.14l12.29 -12.29M683.34 231h12.29M689.48 224.86v12.29M683.34 224.86l12.29 12.29M683.34 237.14l12.29 -12.29" fill="none" stroke="#000" stroke-width="1.55"/>
<path d="M632.49 252.1H663.85M663.85 252.1H689.48" fill="none" stroke="#2800e4" stroke-width="1.65" stroke-dasharray="7 3.5 1.75 3.5"/>
<path d="M625.89 258.5l13.2 0l-6.6 -12zM657.25 258.5l13.2 0l-6.6 -12zM682.88 258.5l13.2 0l-6.6 -12z" fill="none" stroke="#2800e4" stroke-width="1.55" stroke-linejoin="round"/>
</svg>
</body></html>
